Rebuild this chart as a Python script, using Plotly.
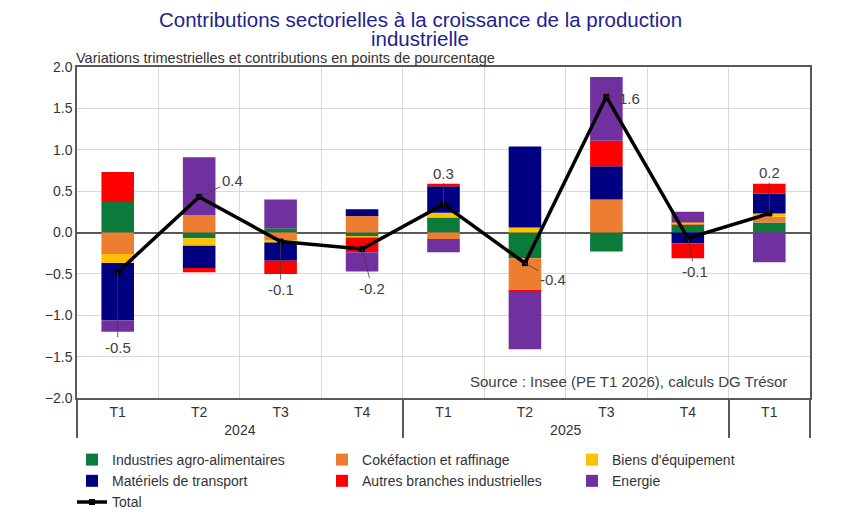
import plotly.graph_objects as go

# categories (year, quarter)
annees = ["2024", "2024", "2024", "2024", "2025", "2025", "2025", "2025", " "]
trimestres = ["T1", "T2", "T3", "T4", "T1", "T2", "T3", "T4", "T1"]

# contributions en points de pourcentage
agro = [0.37, -0.07, 0.05, -0.05, 0.18, -0.31, -0.23, 0.10, 0.12]
coke = [-0.26, 0.21, -0.09, 0.20, -0.08, -0.39, 0.40, 0.01, 0.07]
biens = [-0.11, -0.09, -0.03, -0.01, 0.06, 0.06, 0.00, 0.01, 0.04]
transport = [-0.69, -0.27, -0.22, 0.08, 0.32, 0.98, 0.40, -0.13, 0.24]
autres = [0.36, -0.05, -0.16, -0.18, 0.03, -0.01, 0.31, -0.18, 0.12]
energie = [-0.14, 0.70, 0.35, -0.23, -0.16, -0.70, 0.77, 0.13, -0.36]
total = [-0.48, 0.43, -0.11, -0.20, 0.34, -0.37, 1.64, -0.07, 0.23]

series = [
    ("Industries agro-alimentaires", agro, "#0B7A3A"),
    ("Cokéfaction et raffinage", coke, "#ED7D31"),
    ("Biens d'équipement", biens, "#FFC000"),
    ("Matériels de transport", transport, "#000080"),
    ("Autres branches industrielles", autres, "#FF0000"),
    ("Energie", energie, "#7030A0"),
]

police = "Liberation Sans, Arial, sans-serif"

x = [annees, trimestres]

fig = go.Figure()
for nom, vals, coul in series:
    fig.add_trace(go.Bar(x=x, y=vals, name=nom, marker_color=coul,
                         marker_line_width=0))

fig.add_trace(go.Scatter(x=x, y=total, name="Total", mode="lines+markers",
                         line=dict(color="black", width=3.5),
                         marker=dict(color="black", size=6, symbol="square")))

# étiquettes du total, avec trait de rappel (décalages en px)
decalages = [(0, 75), (33, -16), (0, 48), (10, 39), (0, -31),
             (28, 16), (23, 2), (7, 33), (0, -41)]
for i, v in enumerate(total):
    dx, dy = decalages[i]
    fig.add_annotation(x=i, y=v, text=f"{v:.1f}", showarrow=True,
                       arrowhead=0, arrowwidth=0.8, arrowcolor="#404040",
                       ax=dx, ay=dy, standoff=0,
                       font=dict(family=police, size=15, color="#404040"))

# titre sur deux lignes (deux annotations pour régler l'interligne)
titre = ["Contributions sectorielles à la croissance de la production",
         "industrielle"]
for ligne, yp in zip(titre, [1.1435, 1.0846]):
    fig.add_annotation(xref="paper", yref="paper", x=0.468, y=yp,
                       xanchor="center", yanchor="middle", showarrow=False,
                       text=ligne, borderpad=0,
                       font=dict(family=police, size=20.5, color="#22228F"))

fig.add_annotation(xref="paper", yref="paper", x=0, y=1, xanchor="left",
                   yanchor="bottom", xshift=-2, yshift=0, showarrow=False,
                   text="Variations trimestrielles et contributions en points de pourcentage",
                   borderpad=0,
                   font=dict(family=police, size=14.5, color="#333333"))
fig.add_annotation(xref="paper", yref="paper", x=0.971, y=0.051,
                   xanchor="right", yanchor="middle", showarrow=False,
                   text="Source : Insee (PE T1 2026), calculs DG Trésor",
                   font=dict(family=police, size=15, color="#404040"))

fig.update_layout(
    width=831, height=513,
    margin=dict(l=69, r=29, t=59, b=123, autoexpand=False),
    paper_bgcolor="white", plot_bgcolor="white",
    barmode="relative", bargap=0.6,
    font=dict(family=police, size=14, color="#333333"),
    legend=dict(orientation="h", x=-0.0068, xanchor="left", y=-0.139,
                yanchor="top", entrywidth=205, traceorder="normal",
                font=dict(family=police, size=14, color="#333333")),
)

fig.update_xaxes(type="multicategory", showgrid=True, gridcolor="#D9D9D9",
                 showline=True, linecolor="#595959", linewidth=1.5, mirror=True,
                 ticks="", showdividers=True, dividercolor="#595959",
                 dividerwidth=1.5, tickfont=dict(family=police, size=14))
fig.update_yaxes(range=[-2, 2], dtick=0.5, tickformat=".1f", showgrid=True,
                 gridcolor="#D9D9D9", zeroline=True, zerolinecolor="#595959",
                 zerolinewidth=1.5, showline=True, linecolor="#595959",
                 linewidth=1.5, mirror=True, ticks="",
                 tickfont=dict(family=police, size=14))

fig.write_html("out.html")
